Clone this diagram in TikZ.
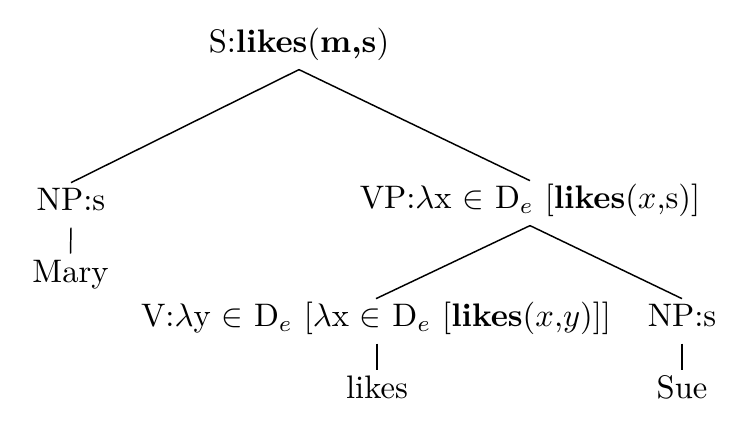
\documentclass[tikz,border=0pt]{standalone}
\begin{document}
\begin{tikzpicture}[x=0.307pt,y=-0.307pt,
  lbl/.style={anchor=base, inner sep=1.7pt, text height=6.8pt, text depth=3.2pt},
  edge/.style={line width=0.45pt}]
\useasboundingbox (0,0) rectangle (746,444);
\node[lbl] (S) at (299,53) {S:\textbf{likes}(\textbf{m,s})};
\node[lbl] (NPs) at (71,211) {NP:s};
\node[lbl] (Mary) at (70.5,282) {Mary};
\node[lbl] (VP) at (530,209) {VP:$\lambda$x $\in$ D$_e$ [\textbf{likes}($x$,s)]};
\node[lbl] (V) at (376,327) {V:$\lambda$y $\in$ D$_e$ [$\lambda$x $\in$ D$_e$ [\textbf{likes}($x$,$y$)]]};
\node[lbl] (NPs2) at (682,327) {NP:s};
\node[lbl] (likes) at (377,398) {likes};
\node[lbl] (Sue) at (682,398) {Sue};
\draw[edge] (S.south) -- (NPs.north);
\draw[edge] (S.south) -- (VP.north);
\draw[edge] (NPs.south) -- (Mary.north);
\draw[edge] (VP.south) -- (V.north);
\draw[edge] (VP.south) -- (NPs2.north);
\draw[edge] (V.south -| likes.north) -- (likes.north);
\draw[edge] (NPs2.south) -- (Sue.north);
\end{tikzpicture}
\end{document}
